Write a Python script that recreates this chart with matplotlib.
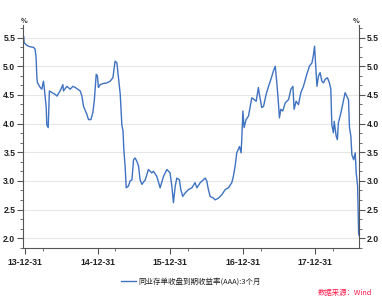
import matplotlib
matplotlib.use("Agg")
import matplotlib.pyplot as plt
import matplotlib.dates as mdates
import matplotlib.ticker as mticker
import numpy as np
import pandas as pd

plt.rcParams['font.family'] = ['Noto Sans CJK SC', 'DejaVu Sans']

# 同业存单 AAA 3个月 收益率
dates = [
    "2013-12-20", "2013-12-23", "2013-12-26", "2014-01-10", "2014-01-25", "2014-02-11",
    "2014-02-19", "2014-02-24", "2014-02-28", "2014-03-03", "2014-03-17", "2014-03-25",
    "2014-04-02", "2014-04-06", "2014-04-16", "2014-04-19", "2014-04-26", "2014-05-02",
    "2014-05-15", "2014-05-31", "2014-06-09", "2014-06-25", "2014-07-09", "2014-07-12",
    "2014-07-29", "2014-08-15", "2014-08-28", "2014-09-09", "2014-10-04", "2014-10-13",
    "2014-10-21", "2014-11-07", "2014-11-15", "2014-11-27", "2014-12-07", "2014-12-14",
    "2014-12-24", "2014-12-30", "2015-01-04", "2015-01-13", "2015-01-29", "2015-02-16",
    "2015-03-04", "2015-03-18", "2015-03-29", "2015-04-07", "2015-04-15", "2015-04-24",
    "2015-05-02", "2015-05-08", "2015-05-12", "2015-05-19", "2015-05-24", "2015-06-04",
    "2015-06-13", "2015-06-22", "2015-06-30", "2015-07-08", "2015-07-17", "2015-07-25",
    "2015-08-02", "2015-08-11", "2015-08-28", "2015-09-13", "2015-09-30", "2015-10-08",
    "2015-10-25", "2015-11-11", "2015-11-28", "2015-12-15", "2015-12-31", "2016-01-09",
    "2016-01-17", "2016-01-26", "2016-02-03", "2016-02-16", "2016-02-23", "2016-03-04",
    "2016-03-16", "2016-04-02", "2016-04-19", "2016-05-05", "2016-05-14", "2016-05-31",
    "2016-06-16", "2016-06-25", "2016-07-03", "2016-07-11", "2016-07-20", "2016-08-06",
    "2016-08-14", "2016-08-31", "2016-09-17", "2016-10-04", "2016-10-20", "2016-11-06",
    "2016-11-14", "2016-11-23", "2016-12-01", "2016-12-15", "2016-12-23", "2016-12-27",
    "2017-01-01", "2017-01-07", "2017-01-17", "2017-01-29", "2017-02-07", "2017-02-15",
    "2017-02-27", "2017-03-09", "2017-03-20", "2017-03-25", "2017-04-06", "2017-04-15",
    "2017-04-28", "2017-05-10", "2017-05-22", "2017-06-04", "2017-06-13", "2017-06-21",
    "2017-06-29", "2017-07-04", "2017-07-11", "2017-07-21", "2017-08-02", "2017-08-19",
    "2017-08-31", "2017-09-10", "2017-09-16", "2017-09-26", "2017-10-08", "2017-10-20",
    "2017-11-02", "2017-11-19", "2017-12-02", "2017-12-15", "2017-12-23", "2017-12-28",
    "2018-01-02", "2018-01-09", "2018-01-17", "2018-01-25", "2018-02-03", "2018-02-11",
    "2018-02-19", "2018-03-03", "2018-03-13", "2018-03-20", "2018-03-25", "2018-04-02",
    "2018-04-06", "2018-04-16", "2018-04-22", "2018-04-27", "2018-05-10", "2018-05-20",
    "2018-05-31", "2018-06-12", "2018-06-17", "2018-06-22", "2018-06-29", "2018-07-04",
    "2018-07-13", "2018-07-21", "2018-07-26", "2018-08-02", "2018-08-07", "2018-08-09",
]
rates = [
    5.45, 5.52, 5.41, 5.36, 5.34, 5.33,
    5.30, 5.15, 4.80, 4.71, 4.63, 4.60,
    4.74, 4.63, 4.28, 3.98, 3.93, 4.57,
    4.54, 4.51, 4.48, 4.57, 4.68, 4.57,
    4.65, 4.60, 4.65, 4.63, 4.57, 4.48,
    4.30, 4.16, 4.07, 4.07, 4.19, 4.39,
    4.86, 4.83, 4.63, 4.68, 4.70, 4.71,
    4.74, 4.80, 5.09, 5.06, 4.80, 4.51,
    3.98, 3.87, 3.55, 3.23, 2.88, 2.91,
    3.00, 3.02, 3.37, 3.40, 3.34, 3.26,
    3.02, 2.94, 3.02, 3.20, 3.14, 3.17,
    3.08, 2.88, 3.08, 3.20, 3.14, 2.91,
    2.62, 2.91, 3.05, 3.02, 2.85, 2.73,
    2.79, 2.85, 2.88, 2.97, 2.88, 2.97,
    3.02, 3.05, 3.00, 2.85, 2.73, 2.70,
    2.67, 2.70, 2.76, 2.85, 2.88, 2.97,
    3.08, 3.26, 3.49, 3.60, 3.49, 3.78,
    4.22, 3.93, 4.07, 4.13, 4.30, 4.45,
    4.42, 4.39, 4.63, 4.51, 4.28, 4.30,
    4.51, 4.65, 4.77, 4.92, 5.00, 4.71,
    4.36, 4.10, 4.25, 4.22, 4.36, 4.42,
    4.60, 4.65, 4.25, 4.39, 4.33, 4.54,
    4.65, 4.86, 5.00, 5.06, 5.21, 5.35,
    5.06, 4.65, 4.83, 4.89, 4.74, 4.71,
    4.77, 4.80, 4.71, 4.60, 3.98, 3.84,
    4.04, 3.78, 3.72, 4.01, 4.19, 4.36,
    4.54, 4.45, 4.42, 3.93, 3.78, 3.46,
    3.37, 3.49, 3.14, 2.91, 2.09, 2.05,
]
series_name = "同业存单收盘到期收益率(AAA):3个月"
year_ticks = ["2013-12-31", "2014-12-31", "2015-12-31", "2016-12-31", "2017-12-31"]

x = pd.to_datetime(dates)
line_color = "#3f72c0"
text_color = "#202020"

fig = plt.figure(figsize=(3.82, 3.03), dpi=100)
ax = fig.add_axes([0.0602, 0.1815, 0.8796, 0.736])

ax.plot(x, rates, color=line_color, linewidth=1.0, label=series_name)

ax.set_xlim(pd.Timestamp("2013-12-20"), pd.Timestamp("2018-08-09"))
ax.set_ylim(1.83, 5.72)

ax.set_xticks(pd.to_datetime(year_ticks))
ax.xaxis.set_major_formatter(mdates.DateFormatter("%y-%m-%d"))
ax.xaxis.set_minor_locator(mdates.MonthLocator(bymonth=[3, 6, 9, 12], bymonthday=31))
ax.set_yticks(np.arange(2.0, 5.51, 0.5))
ax.yaxis.set_major_formatter(mticker.FormatStrFormatter("%.1f"))
ax.yaxis.set_minor_locator(mticker.AutoMinorLocator(3))

ax.tick_params(axis="both", which="major", labelsize=6.2, colors="#555555",
               labelcolor=text_color, length=4, width=0.8)
ax.tick_params(axis="both", which="minor", colors="#555555", length=2.5, width=0.6)
ax.tick_params(axis="y", which="both", left=True, right=True, labelleft=True, labelright=True)
ax.tick_params(axis="y", pad=1.5)
ax.tick_params(axis="x", pad=3)

# tick labels in a narrow bold sans, both y sides
for t in ax.xaxis.get_major_ticks() + ax.yaxis.get_major_ticks():
    for lab in (t.label1, t.label2):
        lab.set_fontfamily("Liberation Sans")
        lab.set_fontweight("bold")

ax.grid(axis="y", color="#e6e6e6", linewidth=0.8)
ax.set_axisbelow(True)
for side in ["left", "right", "bottom"]:
    ax.spines[side].set_color("#555555")
    ax.spines[side].set_linewidth(0.8)
ax.spines["top"].set_visible(False)

# unit labels above both y axes
fig.text(0.0628, 0.922, "%", fontsize=5, color="#222222", ha="center", va="bottom", fontweight="bold")
fig.text(0.932, 0.922, "%", fontsize=5, color="#222222", ha="center", va="bottom", fontweight="bold")

fig.legend(loc="center", bbox_to_anchor=(0.50, 0.07), frameon=False, fontsize=5.4,
           handlelength=2.0, handletextpad=0.4, labelcolor=text_color)

fig.text(0.975, 0.02, "数据来源：Wind", fontsize=5.3, color="#ff1a4a", style="italic",
         ha="right", va="bottom")

fig.savefig("out.png", dpi=100)
